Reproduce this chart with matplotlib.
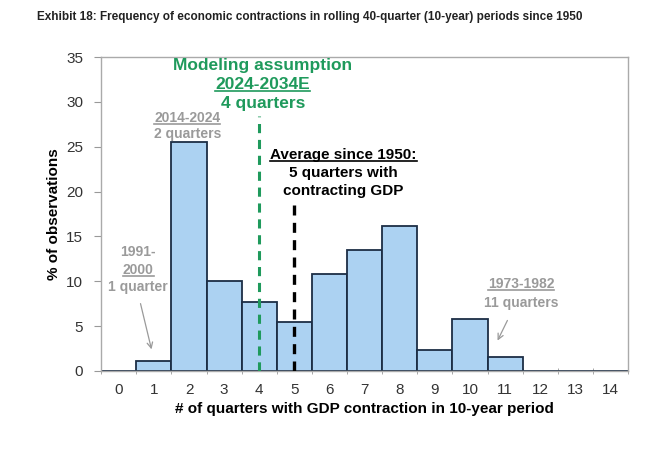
'''
Frequency of economic contractions in rolling 40-quarter periods
'''

import numpy as np
import matplotlib.pyplot as plt
from matplotlib.lines import Line2D

quarters = list(range(0, 15))
pct_obs = [0, 1.15, 25.5, 10.0, 7.7, 5.4, 10.8, 13.5, 16.2, 2.3, 5.8, 1.5, 0, 0, 0]
model_q = 4
avg_q = 5

title = 'Exhibit 18: Frequency of economic contractions in rolling 40-quarter (10-year) periods since 1950'

GREEN = '#1f9a5c'
GRAY = '#9a9a9a'
BAR = '#acd2f2'
EDGE = '#1c2e45'

plt.rcParams['font.family'] = ['Liberation Sans', 'DejaVu Sans']

fig = plt.figure(figsize=(6.66, 4.49), dpi=100)
ax = fig.add_axes([0.152, 0.174, 0.791, 0.699])

ax.bar(quarters, pct_obs, width=1.0, color=BAR, edgecolor=EDGE, linewidth=1.3, zorder=2)

ax.set_xlim(-0.5, 14.5)
ax.set_ylim(0, 35)
ax.set_yticks(np.arange(0, 36, 5))
ax.set_xticks(quarters)
ax.set_xticks(np.arange(-0.5, 15, 1), minor=True)
ax.tick_params(axis='x', which='major', length=0, pad=9, labelsize=11, labelcolor='#333333')
ax.tick_params(axis='x', which='minor', length=4, color='#999999', direction='inout')
ax.tick_params(axis='y', length=5, color='#999999', labelsize=11, labelcolor='#333333', pad=8)
for s in ax.spines.values():
    s.set_color('#aaaaaa')
    s.set_linewidth(1.0)

ax.set_ylabel('% of observations', fontsize=11, fontweight='bold', labelpad=4)
ax.set_xlabel('# of quarters with GDP contraction in 10-year period', fontsize=11,
              fontweight='bold', labelpad=3)

# vertical markers
ax.plot([model_q, model_q], [0, 28.4], color=GREEN, linestyle=(0, (3, 2.2)), linewidth=2.2, zorder=3)
ax.plot([avg_q, avg_q], [0, 18.5], color='black', linestyle=(0, (3, 2.2)), linewidth=2.4, zorder=3)

fig.text(0.055, 0.963, title, fontsize=8.5, fontweight='bold',
         va='center', ha='left', color='#222222')

underlined = []

def label(x, y, s, color, size, under=False):
    t = ax.text(x, y, s, color=color, fontsize=size, fontweight='bold', ha='center', va='center', zorder=4)
    if under:
        underlined.append(t)
    return t

label(4.1, 34.0, 'Modeling assumption', GREEN, 12.5)
label(4.1, 31.9, '2024-2034E', GREEN, 12.5, True)
label(4.1, 29.8, '4 quarters', GREEN, 12.5)

label(1.95, 28.2, '2014-2024', GRAY, 10, True)
label(1.95, 26.4, '2 quarters', GRAY, 10)

label(6.4, 24.1, 'Average since 1950:', 'black', 11, True)
label(6.4, 22.1, '5 quarters with', 'black', 11)
label(6.4, 20.1, 'contracting GDP', 'black', 11)

label(0.55, 13.3, '1991-', GRAY, 10)
label(0.55, 11.2, '2000', GRAY, 10, True)
label(0.55, 9.3, '1 quarter', GRAY, 10)

label(11.45, 9.7, '1973-1982', GRAY, 10, True)
label(11.45, 7.6, '11 quarters', GRAY, 10)

ax.annotate('', xy=(0.95, 2.1), xytext=(0.6, 7.8),
            arrowprops=dict(arrowstyle='->', color=GRAY, lw=0.9))
ax.annotate('', xy=(10.75, 3.1), xytext=(11.1, 5.9),
            arrowprops=dict(arrowstyle='->', color=GRAY, lw=0.9))

# underline selected labels
fig.canvas.draw()
r = fig.canvas.get_renderer()
for t in underlined:
    bb = t.get_window_extent(r)
    yy = bb.y0 + 1
    fig.add_artist(Line2D([bb.x0, bb.x1], [yy, yy], transform=None, color=t.get_color(), lw=1.2))

fig.savefig('out.png', dpi=100, facecolor='white')
